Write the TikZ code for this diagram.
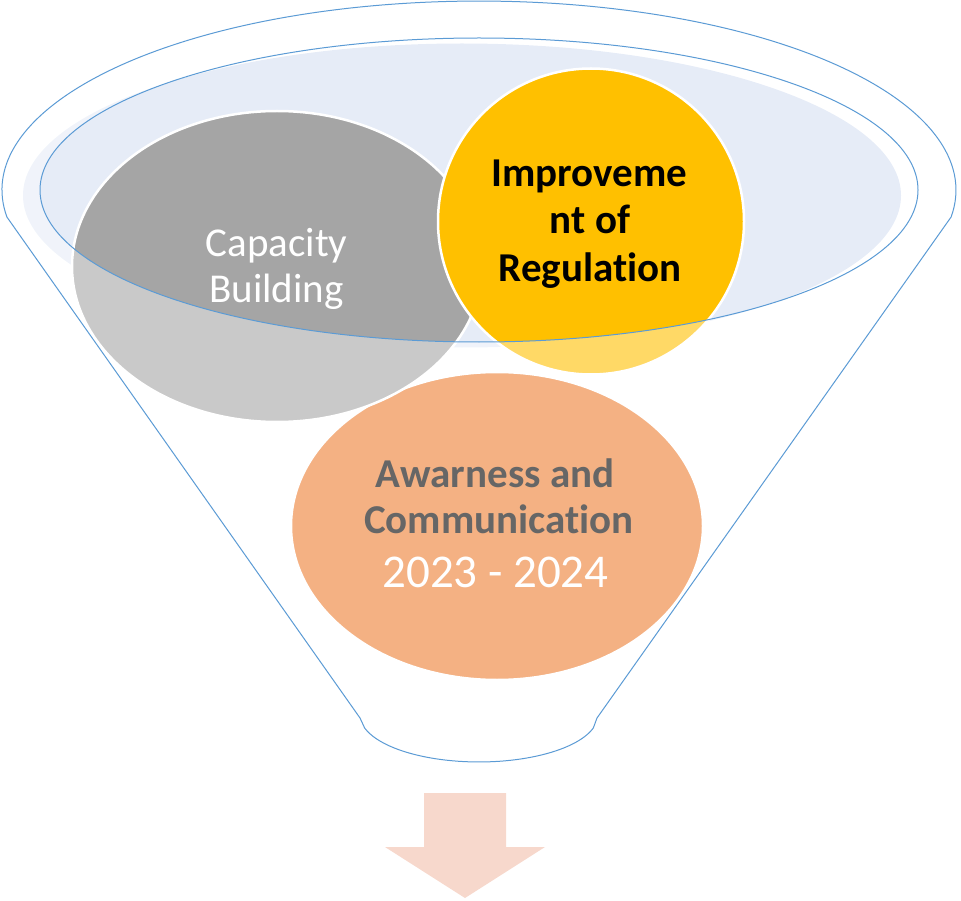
\documentclass[tikz,border=0pt]{standalone}
\usepackage{fontspec}
\setmainfont{Carlito}[Ligatures={NoCommon,NoContextual}, RawFeature={-liga;-clig;-calt}]
\definecolor{funnelblue}{HTML}{5B9BD5}
\definecolor{lightfill}{HTML}{E6ECF7}
\definecolor{grayfill}{HTML}{A5A5A5}
\definecolor{goldfill}{HTML}{FFC000}
\definecolor{orangefill}{HTML}{ED7D31}
\definecolor{arrowfill}{HTML}{F7D8CC}
\definecolor{darktext}{HTML}{666666}
\tikzset{
  outline/.style={draw=funnelblue, line width=1pt},
  bubble/.style={draw=white, line width=2.5pt},
  lbl/.style={inner sep=0pt, anchor=base, font=\fontsize{41}{45}\selectfont},
  lblbold/.style={lbl, font=\fontsize{41}{45}\selectfont\bfseries},
}
\begin{document}
\begin{tikzpicture}[x=1pt,y=-1pt]
\useasboundingbox (0,0) rectangle (961,901);
% light blue fill ellipse
\fill[lightfill] (462,195.5) ellipse [x radius=439, y radius=152];
% bubbles
\fill[orangefill, bubble] (497,526) ellipse [x radius=206, y radius=154];
\fill[grayfill, bubble] (277,266.5) ellipse [x radius=205, y radius=155.5];
\fill[goldfill, bubble] (591,221.5) circle [radius=153];
% white veil outside the top ellipse
\fill[white, opacity=0.4, even odd rule] (0,0) rectangle (961,901) (479,190) ellipse [x radius=439, y radius=152];
% inner ellipse outline
\draw[outline] (479,190) ellipse [x radius=439, y radius=152];
% funnel outline
\draw[outline, line join=round] (6.9,217) arc [start angle=171.8, end angle=368.2, x radius=477, y radius=189]
  -- (597,718) -- (593.3,728)
  arc [start angle=16.1, end angle=163.9, x radius=119, y radius=47]
  -- (360,718) -- cycle;
% arrow
\fill[arrowfill] (424,793) -- (506,793) -- (506,847) -- (545,847) -- (465,898) -- (385,847) -- (424,847) -- cycle;
% texts
\node[lbl, text=white] (cap1) at (276.5,257) {Capacity};
\node[lbl, text=white] (cap2) at (276.5,302) {Building};
\node[lblbold, text=black] (reg1) at (589.5,187) {Improveme};
\node[lblbold, text=black] (reg2) at (590,234) {nt of};
\node[lblbold, text=black] (reg3) at (590,282) {Regulat\kern0pt ion};
\node[lblbold, text=darktext] (aw1) at (495,487) {Awarness and};
\node[lblbold, text=darktext] (aw2) at (499,533) {Communicat\kern0pt ion};
\node[lbl, text=white, font=\fontsize{47}{52}\selectfont] (yr) at (495.5,587) {2023 - 2024};
\end{tikzpicture}
\end{document}
